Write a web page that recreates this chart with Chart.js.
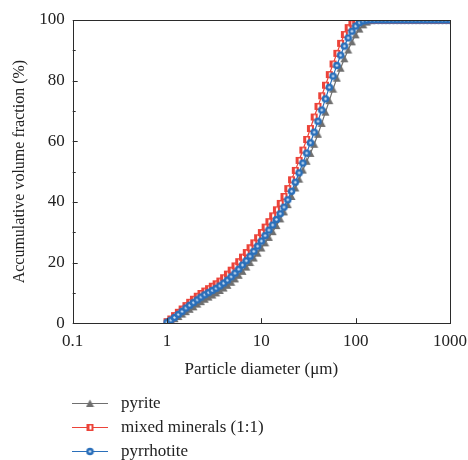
<!DOCTYPE html>
<html>
<head>
<meta charset="utf-8">
<script src="https://cdn.jsdelivr.net/npm/chart.js@4.4.0/dist/chart.umd.min.js"></script>
<style>
  html, body { margin: 0; padding: 0; background: #fff; }
  #wrap { position: relative; width: 468px; height: 460px; }
  #legend { position: absolute; left: 72px; top: 391px; font-family: "Liberation Serif", "DejaVu Serif", serif; font-size: 17px; color: #222; }
  .item { display: flex; align-items: center; height: 24px; }
  .item canvas { margin-right: 13px; }
</style>
</head>
<body>
<div id="wrap">
  <canvas id="c" width="468" height="460"></canvas>
  <div id="legend"></div>
</div>
<script>
// particle diameters (µm)
const diameters = [1.000, 1.096, 1.202, 1.318, 1.445, 1.585, 1.738, 1.905, 2.089, 2.291,
  2.512, 2.754, 3.020, 3.311, 3.631, 3.981, 4.365, 4.786, 5.248, 5.754,
  6.310, 6.918, 7.586, 8.318, 9.120, 10.00, 10.96, 12.02, 13.18, 14.45,
  15.85, 17.38, 19.05, 20.89, 22.91, 25.12, 27.54, 30.20, 33.11, 36.31,
  39.81, 43.65, 47.86, 52.48, 57.54, 63.10, 69.18, 75.86, 83.18, 91.20,
  100.0, 109.6, 120.2, 131.8, 144.5, 158.5, 173.8, 190.5, 208.9, 229.1,
  251.2, 275.4, 302.0, 331.1, 363.1, 398.1, 436.5, 478.6, 524.8, 575.4,
  631.0, 691.8, 758.6, 831.8, 912.0, 1000];

// accumulative volume fraction (%)
const pyrite = [0.2, 0.8, 1.5, 2.2, 3.0, 3.8, 4.6, 5.4, 6.3, 7.1,
  7.9, 8.6, 9.3, 10.0, 10.8, 11.6, 12.5, 13.5, 14.6, 15.8,
  17.1, 18.5, 20.0, 21.5, 23.1, 24.8, 26.5, 28.3, 30.2, 32.2,
  34.4, 36.7, 39.1, 41.8, 44.6, 47.5, 50.5, 53.4, 56.0, 59.0,
  62.3, 65.9, 69.6, 73.4, 77.2, 80.8, 84.1, 87.2, 90.1, 92.8,
  95.1, 97.0, 98.4, 99.3, 99.8, 100, 100, 100, 100, 100,
  100, 100, 100, 100, 100, 100, 100, 100, 100, 100,
  100, 100, 100, 100, 100, 100];

const mixed = [0.5, 1.4, 2.5, 3.6, 4.7, 5.8, 6.9, 7.9, 8.9, 9.8,
  10.6, 11.4, 12.2, 13.0, 13.9, 15.0, 16.2, 17.5, 18.9, 20.3,
  21.8, 23.3, 24.9, 26.5, 28.2, 29.9, 31.7, 33.5, 35.4, 37.4,
  39.5, 41.8, 44.4, 47.3, 50.4, 53.7, 57.1, 60.6, 64.2, 68.0,
  71.5, 75.0, 78.5, 82.0, 85.5, 89.0, 92.3, 95.2, 97.5, 99.0,
  99.8, 100, 100, 100, 100, 100, 100, 100, 100, 100,
  100, 100, 100, 100, 100, 100, 100, 100, 100, 100,
  100, 100, 100, 100, 100, 100];

const pyrrhotite = [0.3, 1.0, 1.9, 2.9, 3.9, 5.0, 5.9, 6.8, 7.7, 8.6,
  9.4, 10.1, 10.8, 11.5, 12.3, 13.2, 14.2, 15.3, 16.5, 17.8,
  19.2, 20.6, 22.1, 23.7, 25.4, 27.1, 28.9, 30.7, 32.4, 34.2,
  36.1, 38.3, 40.7, 43.5, 46.5, 49.6, 52.8, 56.1, 59.5, 63.0,
  66.6, 70.3, 74.0, 77.8, 81.5, 85.0, 88.4, 91.4, 94.1, 96.3,
  98.0, 99.1, 99.7, 99.9, 100, 100, 100, 100, 100, 100,
  100, 100, 100, 100, 100, 100, 100, 100, 100, 100,
  100, 100, 100, 100, 100, 100];

const seriesNames = ["pyrite", "mixed minerals (1:1)", "pyrrhotite"];
const xTickValues = [0.1, 1, 10, 100, 1000];
const xTickLabels = ["0.1", "1", "10", "100", "1000"];
const yTickValues = [0, 20, 40, 60, 80, 100];

const FONT = '"Liberation Serif", "DejaVu Serif", serif';
const GRAY = "#6f6f6f", RED = "#ec4339", BLUE = "#2a6fba";

function marker(kind) {
  const c = document.createElement("canvas");
  c.width = 9; c.height = 9;
  const g = c.getContext("2d");
  if (kind === "tri") {
    g.fillStyle = GRAY;
    g.beginPath(); g.moveTo(4.5, 0.5); g.lineTo(8.5, 8); g.lineTo(0.5, 8); g.closePath(); g.fill();
  } else if (kind === "sq") {
    g.fillStyle = RED; g.fillRect(1, 1, 7, 7);
    g.fillStyle = "#ffffff"; g.fillRect(4, 2.5, 2, 4);
  } else {
    g.fillStyle = BLUE;
    g.beginPath(); g.arc(4.5, 4.5, 3.8, 0, Math.PI * 2); g.fill();
    g.fillStyle = "#d8e8f8";
    g.beginPath(); g.arc(4.5, 4.5, 1.2, 0, Math.PI * 2); g.fill();
  }
  return c;
}
const mTri = marker("tri"), mSq = marker("sq"), mCirc = marker("circ");

function pts(vals) { return diameters.map((d, i) => ({ x: d, y: vals[i] })); }

const axisPlugin = {
  id: "axisPlugin",
  afterDraw(chart) {
    const { ctx, chartArea: a } = chart;
    const xs = chart.scales.x, ys = chart.scales.y;
    ctx.save();
    ctx.strokeStyle = "#2b2b2b";
    ctx.lineWidth = 1;
    ctx.strokeRect(Math.round(a.left) + 0.5, Math.round(a.top) + 0.5, Math.round(a.right - a.left), Math.round(a.bottom - a.top));
    ctx.beginPath();
    for (let v = 0; v <= 100; v += 10) {
      const y = Math.round(ys.getPixelForValue(v)) + 0.5;
      const len = v % 20 === 0 ? 5 : 3;
      ctx.moveTo(a.left, y); ctx.lineTo(a.left + len, y);
    }
    xTickValues.forEach(v => {
      const x = Math.round(xs.getPixelForValue(v)) + 0.5;
      ctx.moveTo(x, a.bottom); ctx.lineTo(x, a.bottom - 5);
    });
    ctx.stroke();
    ctx.restore();
  }
};

const ds = (label, vals, color, style, order) => ({
  label, data: pts(vals), borderColor: color, backgroundColor: color,
  borderWidth: 1.2, pointStyle: style, pointRadius: 4, tension: 0, order
});

new Chart(document.getElementById("c"), {
  type: "line",
  data: {
    datasets: [
      ds(seriesNames[0], pyrite, GRAY, mTri, 3),
      ds(seriesNames[1], mixed, RED, mSq, 2),
      ds(seriesNames[2], pyrrhotite, BLUE, mCirc, 1)
    ]
  },
  options: {
    responsive: false,
    animation: false,
    layout: { padding: { top: 20, right: 0, left: 6, bottom: 76 } },
    plugins: { legend: { display: false }, tooltip: { enabled: false } },
    scales: {
      x: {
        type: "logarithmic", min: 0.1, max: 1000,
        afterBuildTicks(s) { s.ticks = xTickValues.map(v => ({ value: v })); },
        afterFit(s) { s.paddingRight = 18; },
        ticks: {
          autoSkip: false, maxRotation: 0, padding: 8, color: "#222",
          font: { family: FONT, size: 17 },
          callback: (v) => { const i = xTickValues.indexOf(v); return i >= 0 ? xTickLabels[i] : ""; }
        },
        grid: { display: false, drawTicks: false },
        border: { display: false },
        title: { display: true, text: "Particle diameter (μm)", color: "#222", font: { family: FONT, size: 17 }, padding: { top: 0 } }
      },
      y: {
        min: 0, max: 100,
        afterBuildTicks(s) { s.ticks = yTickValues.map(v => ({ value: v })); },
        afterFit(s) { s.paddingTop = 0; s.paddingBottom = 0; },
        ticks: { padding: 8, color: "#222", font: { family: FONT, size: 17 } },
        grid: { display: false, drawTicks: false },
        border: { display: false },
        title: { display: true, text: "Accumulative volume fraction (%)", color: "#222", font: { family: FONT, size: 16 }, padding: { bottom: 2 } }
      }
    }
  },
  plugins: [axisPlugin]
});

// HTML legend
const legend = document.getElementById("legend");
[[GRAY, mTri], [RED, mSq], [BLUE, mCirc]].forEach(([col, m], i) => {
  const row = document.createElement("div"); row.className = "item";
  const c = document.createElement("canvas"); c.width = 36; c.height = 12;
  const g = c.getContext("2d");
  g.strokeStyle = col; g.lineWidth = 1.2;
  g.beginPath(); g.moveTo(0, 6.5); g.lineTo(36, 6.5); g.stroke();
  g.drawImage(m, 13.5, 2);
  const t = document.createElement("span"); t.textContent = seriesNames[i];
  row.appendChild(c); row.appendChild(t); legend.appendChild(row);
});
</script>
</body>
</html>
